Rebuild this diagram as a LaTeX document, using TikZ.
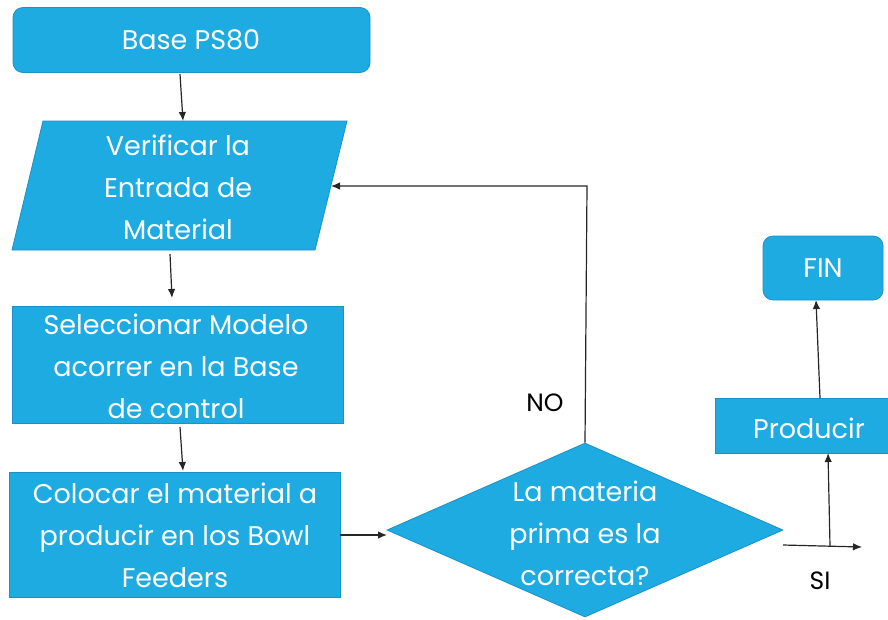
\documentclass[tikz,border=0pt]{standalone}
\usepackage{fontspec}
\setmainfont{Poppins}
\usetikzlibrary{arrows.meta,shapes.geometric}
\definecolor{fc}{HTML}{1EABE2}
\definecolor{bc}{HTML}{1A92C6}
\begin{document}
\begin{tikzpicture}[x=1pt,y=-1pt,
  box/.style={draw=bc,fill=fc,line width=0.8pt,inner sep=0pt},
  txt/.style={text=white,align=center,font=\fontsize{27}{42}\selectfont,inner sep=0pt},
  lbl/.style={text=black,font=\fontsize{25}{30}\selectfont,inner sep=0pt},
  conn/.style={line width=1.2pt,draw=black!85,-{Latex[length=9pt,width=7.5pt]}}]
\useasboundingbox (0,0) rectangle (888,619);
% Base PS80
\node[box,rounded corners=10pt,minimum width=357pt,minimum height=65pt] (base) at (191.5,40) {};
\node[txt] (baset) at (191,40) {Base PS80};
% parallelogram
\draw[box] (43,121) -- (347,121) -- (315,250) -- (12,250) -- cycle;
\node[txt] (ver) at (178,187) {Verificar la\\Entrada de\\Material};
\coordinate (vertop) at (183,121);
\coordinate (verbot) at (170,254);
\coordinate (verright) at (331,186);
% Seleccionar
\node[box,minimum width=331pt,minimum height=117pt] (sel) at (177.5,364.5) {};
\node[txt] (selt) at (176,366) {Seleccionar Modelo\\acorrer en la Base\\de control};
% Colocar
\node[box,minimum width=331pt,minimum height=125pt] (col) at (174.5,534.5) {};
\node[txt] (colt) at (175,535) {Colocar el material a\\producir en los Bowl\\Feeders};
% diamond
\node[box,diamond,minimum width=396pt,minimum height=174pt] (dec) at (585,530) {};
\node[txt] (dect) at (585,533) {La materia\\prima es la\\correcta?};
% Producir
\node[box,minimum width=175pt,minimum height=55pt] (prod) at (802.5,425.5) {};
\node[txt] (prodt) at (809,428) {Producir};
% FIN
\node[box,rounded corners=10pt,minimum width=120pt,minimum height=64pt] (fin) at (823,268) {};
\node[txt] (fint) at (823,268) {FIN};
% labels
\node[lbl] (no) at (545,403) {NO};
\node[lbl] (si) at (820,581) {SI};
% connectors
\coordinate (a1) at (180,74);
\draw[conn] (a1) -- (vertop);
\coordinate (a2e) at (172,298);
\draw[conn] (verbot) -- (a2e);
\coordinate (a3s) at (180,427);
\coordinate (a3e) at (183,471);
\draw[conn] (a3s) -- (a3e);
\coordinate (cols) at (340,535);
\coordinate (cole) at (387,535);
\draw[conn] (cols) -- (cole);
\coordinate (corner) at (587,186);
\draw[conn] (dec.north) -- (corner) -- (verright);
\coordinate (sis) at (783,545);
\coordinate (sie) at (862,547);
\draw[conn] (sis) -- (sie);
\coordinate (up1) at (830,546);
\coordinate (prodb) at (828,453);
\draw[conn] (up1) -- (prodb);
\coordinate (up2) at (820,398);
\coordinate (finb) at (816,300);
\draw[conn] (up2) -- (finb);
\end{tikzpicture}
\end{document}
